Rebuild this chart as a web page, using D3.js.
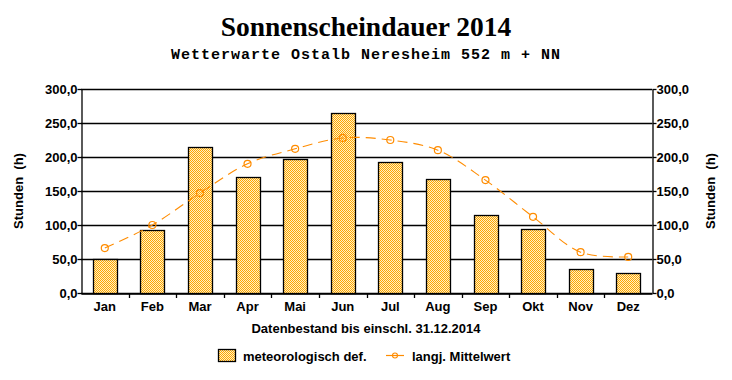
<!DOCTYPE html>
<html>
<head>
<meta charset="utf-8">
<script src="https://cdn.jsdelivr.net/npm/d3@7"></script>
<style>
  body { margin: 0; background: #fff; }
  text { font-family: "Liberation Sans", Arial, sans-serif; font-weight: bold; fill: #000; }
</style>
</head>
<body>
<svg id="chart" width="732" height="380"></svg>
<script>
let months = ["Jan", "Feb", "Mar", "Apr", "Mai", "Jun", "Jul", "Aug", "Sep", "Okt", "Nov", "Dez"]
let sunHours = [50, 93, 215, 171, 197, 265, 193, 168, 115, 94, 35, 29]
let longTermMean = [66, 100, 147, 190, 212, 228, 225, 210, 166, 112, 60, 53]
let yTicks = [0, 50, 100, 150, 200, 250, 300]

let svg = d3.select("#chart")
let margin = {left: 81, right: 80, top: 89, bottom: 87}
let width = 732
let height = 380
let plotW = width - margin.left - margin.right
let plotH = height - margin.top - margin.bottom

// checker pattern for the bars
let defs = svg.append("defs")
let pat = defs.append("pattern")
    .attr("id", "checker")
    .attr("width", 2).attr("height", 2)
    .attr("patternUnits", "userSpaceOnUse")
pat.append("rect").attr("width", 2).attr("height", 2).attr("fill", "#fff0c4")
pat.append("rect").attr("width", 1).attr("height", 1).attr("fill", "#ffa600")
pat.append("rect").attr("x", 1).attr("y", 1).attr("width", 1).attr("height", 1).attr("fill", "#ffa600")

let x = d3.scaleBand().domain(months).range([margin.left, margin.left + plotW])
let y = d3.scaleLinear().domain([0, 300]).range([margin.top + plotH, margin.top])

let fmt = d => d3.format(".1f")(d).replace(".", ",")

// gridlines
svg.append("g")
    .selectAll("line")
    .data(yTicks)
    .enter()
    .append("line")
    .attr("x1", margin.left).attr("x2", margin.left + plotW)
    .attr("y1", d => Math.round(y(d)) + 0.5).attr("y2", d => Math.round(y(d)) + 0.5)
    .attr("stroke", "#000").attr("stroke-width", 1.3)

// bars
svg.append("g")
    .selectAll("rect")
    .data(sunHours)
    .enter()
    .append("rect")
    .attr("x", (d, i) => Math.round(x(months[i]) + x.bandwidth() * 0.25) + 0.5)
    .attr("width", Math.round(x.bandwidth() * 0.5))
    .attr("y", d => Math.round(y(d)) + 0.5)
    .attr("height", d => Math.round(y(0)) - Math.round(y(d)))
    .attr("fill", "url(#checker)")
    .attr("stroke", "#000").attr("stroke-width", 1.3)

// axes
let leftAxis = d3.axisLeft(y).tickValues(yTicks).tickFormat(fmt).tickSize(4).tickSizeOuter(0)
let rightAxis = d3.axisRight(y).tickValues(yTicks).tickFormat(fmt).tickSize(4).tickSizeOuter(0)
let bottomAxis = d3.axisBottom(x).tickSize(0).tickSizeOuter(0)

let gl = svg.append("g").attr("transform", `translate(${margin.left + 0.5},0)`).call(leftAxis)
let gr = svg.append("g").attr("transform", `translate(${margin.left + plotW + 0.5},0)`).call(rightAxis)
let gb = svg.append("g").attr("transform", `translate(0,${Math.round(y(0)) + 0.5})`).call(bottomAxis)

;[gl, gr, gb].forEach(g => {
    g.selectAll(".domain").attr("stroke", "#000").attr("stroke-width", 1.3)
    g.selectAll("line").attr("stroke", "#000").attr("stroke-width", 1.3)
    g.selectAll("text").style("font-size", "13px").style("font-family", "Liberation Sans, Arial, sans-serif")
        .style("font-weight", "bold").attr("fill", "#000")
})
gl.selectAll("text").attr("x", -4).attr("dy", "0.35em")
gr.selectAll("text").attr("x", 4).attr("dy", "0.35em")
gb.selectAll("text").attr("y", 8)

// band boundary ticks below the x axis
svg.append("g")
    .selectAll("line")
    .data(months.slice(1))
    .enter()
    .append("line")
    .attr("x1", d => Math.round(x(d)) + 0.5).attr("x2", d => Math.round(x(d)) + 0.5)
    .attr("y1", Math.round(y(0))).attr("y2", Math.round(y(0)) + 5)
    .attr("stroke", "#000").attr("stroke-width", 1.3)

// long-term mean line
let line = d3.line()
    .x((d, i) => x(months[i]) + x.bandwidth() / 2)
    .y(d => y(d))
    .curve(d3.curveCatmullRom.alpha(0.5))

svg.append("path")
    .datum(longTermMean)
    .attr("d", line)
    .attr("fill", "none")
    .attr("stroke", "#ff8c00")
    .attr("stroke-width", 1.1)
    .attr("stroke-dasharray", "10,6")

svg.append("g")
    .selectAll("circle")
    .data(longTermMean)
    .enter()
    .append("circle")
    .attr("cx", (d, i) => x(months[i]) + x.bandwidth() / 2)
    .attr("cy", d => y(d))
    .attr("r", 3.5)
    .attr("fill", "none")
    .attr("stroke", "#ff8c00")
    .attr("stroke-width", 1.2)

// titles
svg.append("text")
    .attr("x", 366).attr("y", 36)
    .attr("text-anchor", "middle")
    .style("font-family", "Liberation Serif, Times New Roman, serif")
    .style("font-size", "27.5px")
    .text("Sonnenscheindauer 2014")

svg.append("text")
    .attr("x", 366).attr("y", 59)
    .attr("text-anchor", "middle")
    .style("font-family", "Liberation Mono, Courier New, monospace")
    .style("font-size", "15px")
    .style("letter-spacing", "1px")
    .text("Wetterwarte Ostalb Neresheim 552 m + NN")

// y labels
svg.append("text")
    .attr("transform", `translate(23,191) rotate(-90)`)
    .attr("text-anchor", "middle")
    .style("font-size", "13px")
    .attr("xml:space", "preserve")
    .text("Stunden  (h)")

svg.append("text")
    .attr("transform", `translate(715,191) rotate(-90)`)
    .attr("text-anchor", "middle")
    .style("font-size", "13px")
    .attr("xml:space", "preserve")
    .text("Stunden  (h)")

svg.append("text")
    .attr("x", 366).attr("y", 333)
    .attr("text-anchor", "middle")
    .style("font-size", "13px")
    .text("Datenbestand bis einschl. 31.12.2014")

// legend
svg.append("rect")
    .attr("x", 218.5).attr("y", 349.5).attr("width", 17).attr("height", 12)
    .attr("fill", "url(#checker)").attr("stroke", "#000").attr("stroke-width", 1.3)
svg.append("text").attr("x", 243).attr("y", 361).style("font-size", "13px").text("meteorologisch def.")

svg.append("line")
    .attr("x1", 386).attr("x2", 404).attr("y1", 355.5).attr("y2", 355.5)
    .attr("stroke", "#ff8c00").attr("stroke-width", 1.2)
svg.append("circle")
    .attr("cx", 395).attr("cy", 355.5).attr("r", 2.5)
    .attr("fill", "none").attr("stroke", "#ff8c00").attr("stroke-width", 1.1)
svg.append("text").attr("x", 412).attr("y", 361).style("font-size", "13px").text("langj. Mittelwert")
</script>
</body>
</html>
